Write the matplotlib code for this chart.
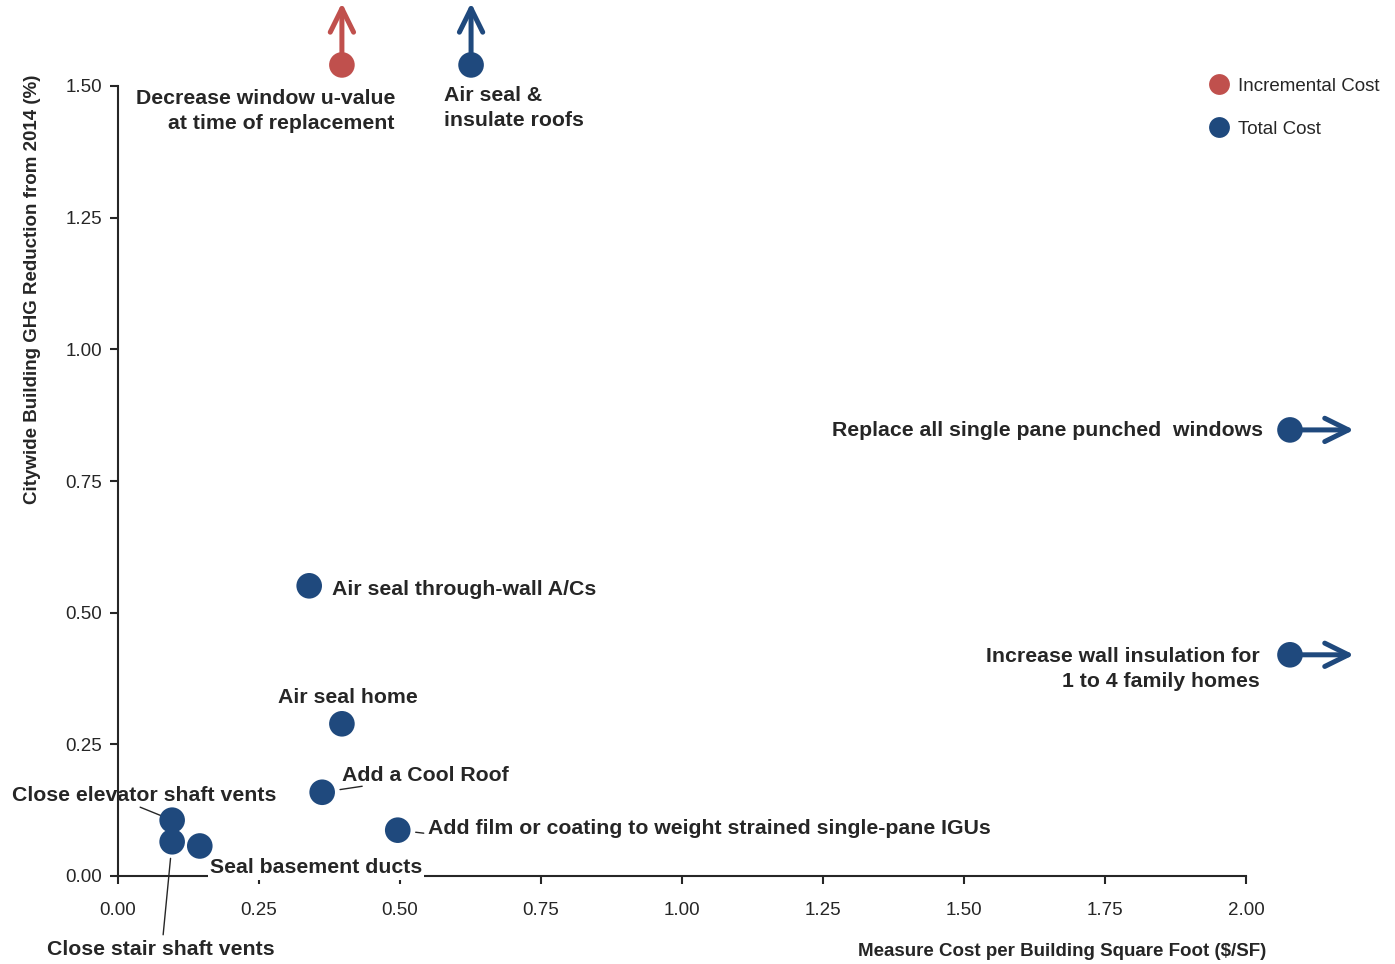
import matplotlib.pyplot as plt
import matplotlib.transforms as mtransforms
from matplotlib.lines import Line2D

plt.rcParams['font.family'] = ['Liberation Sans', 'DejaVu Sans']

RED = '#C0504D'
BLUE = '#1F497D'
DARK = '#262626'

# measures, cost ($/SF) and GHG reduction (%)
measures = ['Decrease window u-value\nat time of replacement',
            'Air seal &\ninsulate roofs',
            'Replace all single pane punched  windows',
            'Air seal through-wall A/Cs',
            'Increase wall insulation for\n1 to 4 family homes',
            'Air seal home',
            'Add a Cool Roof',
            'Add film or coating to weight strained single-pane IGUs',
            'Close elevator shaft vents',
            'Close stair shaft vents',
            'Seal basement ducts']
cost = [0.397, 0.626, 2.078, 0.339, 2.078, 0.397, 0.362, 0.496, 0.096, 0.096, 0.145]
ghg = [1.54, 1.54, 0.847, 0.551, 0.42, 0.289, 0.159, 0.087, 0.106, 0.065, 0.057]
cost_type = ['Incremental', 'Total', 'Total', 'Total', 'Total', 'Total',
             'Total', 'Total', 'Total', 'Total', 'Total']

# label placement (offset pixels from point, ha, va)
label_pos = [(53, -24, 'right', 'top'),
             (-27, -21, 'left', 'top'),
             (-27, -1, 'right', 'center'),
             (23, -4, 'left', 'center'),
             (-30, -14, 'right', 'center'),
             (6, 26, 'center', 'center'),
             (20, 17, 'left', 'center'),
             (30, 2, 'left', 'center'),
             (-28, 25, 'center', 'center'),
             (-11, -108, 'center', 'center'),
             (10, -22, 'left', 'center')]
# leader lines: start offset (pixels), shrink toward point (pt)
leaders = {6: ((40, 6), 13), 7: ((26, -3), 13), 8: ((-32, 13), 8), 9: ((-9, -93), 12)}
# arrows for values off the chart: direction offset in pixels
arrows = {0: (0, 62), 1: (0, 62), 2: (64, 0), 4: (64, 0)}

fig = plt.figure(figsize=(13.95, 9.64), dpi=100)
ax = fig.add_axes([118 / 1395, 88 / 964, 1128 / 1395, 790 / 964])

colors = [RED if t == 'Incremental' else BLUE for t in cost_type]

for i in arrows:
    dx, dy = arrows[i]
    tip = mtransforms.offset_copy(ax.transData, fig=fig, x=dx, y=dy, units='dots')
    ax.annotate('', xy=(cost[i], ghg[i]), xycoords=tip,
                xytext=(cost[i], ghg[i]), textcoords='data',
                arrowprops=dict(arrowstyle='->,head_length=0.85,head_width=0.42',
                                mutation_scale=20, lw=3.6, color=colors[i],
                                shrinkA=0, shrinkB=0),
                annotation_clip=False)

ax.scatter(cost, ghg, s=340, c=colors, zorder=4, clip_on=False, linewidths=0)

for i, name in enumerate(measures):
    dx, dy, ha, va = label_pos[i]
    bbox = None
    if i == 10:
        bbox = dict(facecolor='white', edgecolor='none', pad=1.5)
    ax.annotate(name, xy=(cost[i], ghg[i]), xytext=(dx, dy), textcoords='offset pixels',
                ha=ha, va=va, multialignment=ha,
                fontsize=15.3, fontweight='bold', color=DARK, linespacing=1.38,
                bbox=bbox, zorder=5, annotation_clip=False)

for i, ((sx, sy), shr) in leaders.items():
    ax.annotate('', xy=(cost[i], ghg[i]), xytext=(sx, sy), textcoords='offset pixels',
                arrowprops=dict(arrowstyle='-', lw=1, color=DARK, shrinkA=0, shrinkB=shr),
                annotation_clip=False)

ax.set_xlim(0, 2)
ax.set_ylim(0, 1.5)
ax.set_xticks([i * 0.25 for i in range(9)])
ax.set_yticks([i * 0.25 for i in range(7)])
ax.set_xticklabels(['%.2f' % (i * 0.25) for i in range(9)])
ax.set_yticklabels(['%.2f' % (i * 0.25) for i in range(7)])
for s in ['top', 'right']:
    ax.spines[s].set_visible(False)
for s in ['left', 'bottom']:
    ax.spines[s].set_linewidth(1.5)
    ax.spines[s].set_color(DARK)
ax.tick_params(axis='both', direction='out', length=6, width=1.5, color=DARK,
               labelsize=13.5, labelcolor=DARK)
ax.tick_params(axis='x', pad=12.5)
ax.tick_params(axis='y', pad=5.5)

fig.text(1266 / 1395, 1 - 952 / 964, 'Measure Cost per Building Square Foot ($/SF)',
         ha='right', va='center', fontsize=13.5, fontweight='bold', color=DARK)
fig.text(33 / 1395, 1 - 289 / 964, 'Citywide Building GHG Reduction from 2014 (%)',
         ha='center', va='center', rotation=90, fontsize=13.5, fontweight='bold', color=DARK)

handles = [Line2D([], [], marker='o', ls='none', ms=15, color=RED, mew=0),
           Line2D([], [], marker='o', ls='none', ms=15, color=BLUE, mew=0)]
fig.legend(handles, ['Incremental Cost', 'Total Cost'], loc='upper left',
           bbox_to_anchor=(1188 / 1395, 1 - 61 / 964), frameon=False,
           fontsize=13.5, labelspacing=1.38, handletextpad=0.25, handlelength=1.5,
           labelcolor=DARK)

fig.savefig('out.png', dpi=100)
